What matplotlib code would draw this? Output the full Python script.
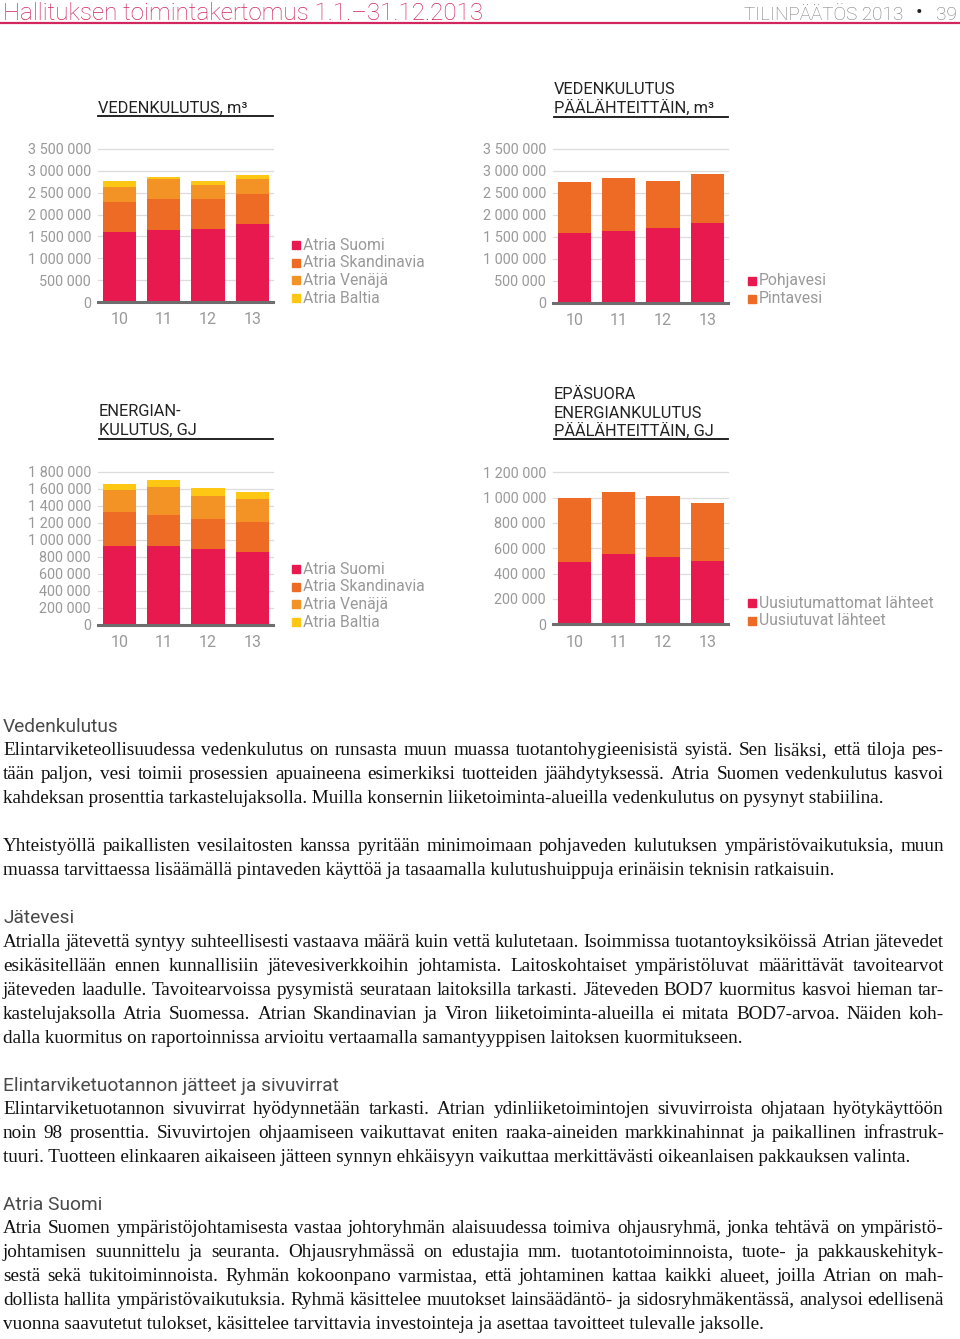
import matplotlib
matplotlib.use('Agg')
import matplotlib.pyplot as plt
from matplotlib.patches import Rectangle
from matplotlib.lines import Line2D

W, H = 960, 1339

years = ['10', '11', '12', '13']

# vedenkulutus, m3 (liiketoiminta-alueittain)
water_suomi = [1608000, 1647000, 1677000, 1792000]
water_skand = [674000, 704000, 690000, 689000]
water_venaja = [360000, 460000, 306000, 322000]
water_baltia = [130000, 46000, 92000, 107000]

# vedenkulutus päälähteittäin, m3
water_ground = [1579000, 1640000, 1693000, 1807000]
water_surface = [1177000, 1207000, 1078000, 1116000]

# energiankulutus, GJ
energy_suomi = [931000, 927000, 888000, 861000]
energy_skand = [399000, 368000, 356000, 352000]
energy_venaja = [255000, 321000, 270000, 266000]
energy_baltia = [70000, 86000, 94000, 78000]

# epäsuora energiankulutus, GJ
energy_nonrenew = [495000, 555000, 529000, 500000]
energy_renew = [500000, 492000, 487000, 461000]

area_labels = ['Atria Suomi', 'Atria Skandinavia', 'Atria Venäjä', 'Atria Baltia']
water_src_labels = ['Pohjavesi', 'Pintavesi']
energy_src_labels = ['Uusiutumattomat lähteet', 'Uusiutuvat lähteet']

RED = '#e8194f'
ORANGE = '#ee6b25'
LIGHT_ORANGE = '#f39325'
YELLOW = '#fdc713'
area_colors = [RED, ORANGE, LIGHT_ORANGE, YELLOW]
src_colors = [RED, ORANGE]

SANS = ['Roboto', 'DejaVu Sans']
SERIF = ['Liberation Serif', 'DejaVu Serif']
GRAY = '#999999'
HEAD_RED = '#d1265e'

fig = plt.figure(figsize=(W / 100, H / 100), dpi=100)


def fx(x):
    return x / W


def fy(y):
    return 1 - y / H


def stacked_chart(left, right, top, bottom, series, colors, ymax, step):
    ax = fig.add_axes([fx(left), fy(bottom), (right - left) / W, (bottom - top) / H])
    x = range(len(years))
    base = [0] * len(years)
    for vals, c in zip(series, colors):
        ax.bar(x, vals, bottom=base, width=0.75, color=c, zorder=2)
        base = [b + v for b, v in zip(base, vals)]
    ax.set_xlim(-0.49, len(years) - 1 + 0.47)
    ax.set_ylim(0, ymax)
    ticks = list(range(0, ymax + 1, step))
    ax.set_yticks(ticks)
    ax.set_yticklabels([f'{t:,}'.replace(',', ' ') for t in ticks])
    ax.set_xticks(list(x))
    ax.set_xticklabels(years)
    ax.tick_params(length=0, colors=GRAY, labelsize=10.4)
    ax.tick_params(axis='y', pad=5)
    ax.tick_params(axis='x', pad=7.5, labelsize=11.5)
    for lab in ax.get_xticklabels() + ax.get_yticklabels():
        lab.set_fontfamily(SANS)
    ax.grid(axis='y', color='#dcdcdc', lw=0.9, zorder=0, clip_on=False)
    for s in ['top', 'right', 'left']:
        ax.spines[s].set_visible(False)
    ax.spines['bottom'].set_color('#6e6e6e')
    ax.spines['bottom'].set_linewidth(2.2)
    ax.spines['bottom'].set_zorder(3)
    ax.patch.set_alpha(0)
    return ax


def chart_title(lines, left, right, first_y, line_y):
    for i, t in enumerate(lines):
        fig.text(fx(left), fy(first_y + i * 18), t, fontsize=11.8, family=SANS,
                 color='#222222', va='center', ha='left')
    fig.add_artist(Line2D([fx(left), fx(right)], [fy(line_y), fy(line_y)],
                          color='#111111', lw=1.3))


def side_legend(labels, colors, sq_x, first_y):
    for i, (lab, c) in enumerate(zip(labels, colors)):
        y = first_y + i * 17.7
        fig.add_artist(Rectangle((fx(sq_x), fy(y + 4)), 8 / W, 8 / H,
                                 color=c, transform=fig.transFigure))
        fig.text(fx(sq_x + 11), fy(y), lab, fontsize=11.3, family=SANS,
                 color=GRAY, va='center', ha='left')


# --- charts ---
stacked_chart(98, 273, 149, 302, [water_suomi, water_skand, water_venaja, water_baltia],
              area_colors, 3500000, 500000)
chart_title(['VEDENKULUTUS, m³'], 98, 273, 108, 116)
side_legend(area_labels, area_colors, 292, 245)

stacked_chart(553, 728, 149, 302.5, [water_ground, water_surface],
              src_colors, 3500000, 500000)
chart_title(['VEDENKULUTUS', 'PÄÄLÄHTEITTÄIN, m³'], 554, 728, 90, 117)
side_legend(water_src_labels, src_colors, 748, 281)

stacked_chart(98, 273, 471.7, 625, [energy_suomi, energy_skand, energy_venaja, energy_baltia],
              area_colors, 1800000, 200000)
chart_title(['ENERGIAN-', 'KULUTUS, GJ'], 99, 273, 412, 439)
side_legend(area_labels, area_colors, 292, 569)

stacked_chart(553, 728, 472.3, 624.3, [energy_nonrenew, energy_renew],
              src_colors, 1200000, 200000)
chart_title(['EPÄSUORA', 'ENERGIANKULUTUS', 'PÄÄLÄHTEITTÄIN, GJ'], 554, 728, 395, 439)
side_legend(energy_src_labels, src_colors, 748, 603)

# --- page header ---
fig.text(fx(3), fy(20), 'Hallituksen toimintakertomus 1.1.–31.12.2013', fontsize=17.4,
         family=SANS, fontweight='light', color=HEAD_RED, va='baseline', ha='left')
fig.text(fx(903), fy(20), 'TILINPÄÄTÖS 2013', fontsize=13.6, family=SANS,
         fontweight='light', color='#777777', va='baseline', ha='right')
fig.text(fx(919), fy(13), '•', fontsize=14, family=SANS,
         color='#222222', va='center', ha='center')
fig.text(fx(957), fy(20), '39', fontsize=13.6, family=SANS,
         fontweight='light', color='#777777', va='baseline', ha='right')
fig.add_artist(Line2D([0, 1], [fy(23), fy(23)], color=HEAD_RED, lw=1.6))

# --- body text ---
sections = [
    ('Vedenkulutus', [
        ['Elintarviketeollisuudessa vedenkulutus on runsasta muun muassa tuotantohygieenisistä syistä. Sen lisäksi, että tiloja pes-',
         'tään paljon, vesi toimii prosessien apuaineena esimerkiksi tuotteiden jäähdytyksessä. Atria Suomen vedenkulutus kasvoi',
         'kahdeksan prosenttia tarkastelujaksolla. Muilla konsernin liiketoiminta-alueilla vedenkulutus on pysynyt stabiilina.'],
        ['Yhteistyöllä paikallisten vesilaitosten kanssa pyritään minimoimaan pohjaveden kulutuksen ympäristövaikutuksia, muun',
         'muassa tarvittaessa lisäämällä pintaveden käyttöä ja tasaamalla kulutushuippuja erinäisin teknisin ratkaisuin.'],
    ]),
    ('Jätevesi', [
        ['Atrialla jätevettä syntyy suhteellisesti vastaava määrä kuin vettä kulutetaan. Isoimmissa tuotantoyksiköissä Atrian jätevedet',
         'esikäsitellään ennen kunnallisiin jätevesiverkkoihin johtamista. Laitoskohtaiset ympäristöluvat määrittävät tavoitearvot',
         'jäteveden laadulle. Tavoitearvoissa pysymistä seurataan laitoksilla tarkasti. Jäteveden BOD7 kuormitus kasvoi hieman tar-',
         'kastelujaksolla Atria Suomessa. Atrian Skandinavian ja Viron liiketoiminta-alueilla ei mitata BOD7-arvoa. Näiden koh-',
         'dalla kuormitus on raportoinnissa arvioitu vertaamalla samantyyppisen laitoksen kuormitukseen.'],
    ]),
    ('Elintarviketuotannon jätteet ja sivuvirrat', [
        ['Elintarviketuotannon sivuvirrat hyödynnetään tarkasti. Atrian ydinliiketoimintojen sivuvirroista ohjataan hyötykäyttöön',
         'noin 98 prosenttia. Sivuvirtojen ohjaamiseen vaikuttavat eniten raaka-aineiden markkinahinnat ja paikallinen infrastruk-',
         'tuuri. Tuotteen elinkaaren aikaiseen jätteen synnyn ehkäisyyn vaikuttaa merkittävästi oikeanlaisen pakkauksen valinta.'],
    ]),
    ('Atria Suomi', [
        ['Atria Suomen ympäristöjohtamisesta vastaa johtoryhmän alaisuudessa toimiva ohjausryhmä, jonka tehtävä on ympäristö-',
         'johtamisen suunnittelu ja seuranta. Ohjausryhmässä on edustajia mm. tuotantotoiminnoista, tuote- ja pakkauskehityk-',
         'sestä sekä tukitoiminnoista. Ryhmän kokoonpano varmistaa, että johtaminen kattaa kaikki alueet, joilla Atrian on mah-',
         'dollista hallita ympäristövaikutuksia. Ryhmä käsittelee muutokset lainsäädäntö- ja sidosryhmäkentässä, analysoi edellisenä',
         'vuonna saavutetut tulokset, käsittelee tarvittavia investointeja ja asettaa tavoitteet tulevalle jaksolle.'],
    ]),
]

renderer = fig.canvas.get_renderer()
body_kw = dict(fontsize=13.8, family=SERIF, color='#111111', va='baseline', ha='left')
BASE_SHIFT = 5  # baseline sits a few px below the visual line centre


def text_width(s):
    t = fig.text(0, 0, s, **body_kw)
    w = t.get_window_extent(renderer).width
    t.remove()
    return w


def body_line(s, y, justify, x0=3, x1=944):
    yb = fy(y + BASE_SHIFT)
    if not justify:
        fig.text(fx(x0), yb, s, **body_kw)
        return
    words = s.split(' ')
    widths = [text_width(w) for w in words]
    gap = (x1 - x0 - sum(widths)) / (len(words) - 1)
    x = x0
    for w, wd in zip(words, widths):
        fig.text(fx(x), yb, w, **body_kw)
        x += wd + gap


y = 726
for heading, paragraphs in sections:
    fig.text(fx(3), fy(y + 6), heading, fontsize=13.8, family=SANS,
             color='#4a4a4a', va='baseline', ha='left')
    y += 24.3
    for p in paragraphs:
        for i, line in enumerate(p):
            body_line(line, y, i < len(p) - 1)
            y += 24
        y += 24
    y -= 24
    y += 23

fig.savefig('out.png', dpi=100)
